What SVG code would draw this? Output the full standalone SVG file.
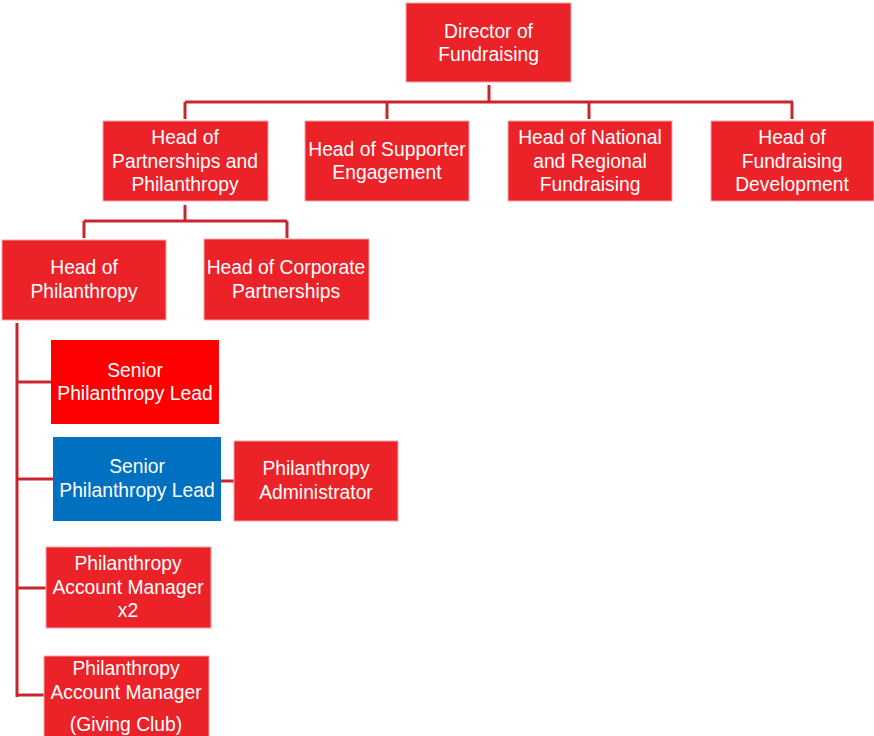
<svg xmlns="http://www.w3.org/2000/svg" width="874" height="736" viewBox="0 0 874 736">
<style>
.box{fill:#EC2229;stroke:#F5A3A6;stroke-width:1}
.t{font-family:"Liberation Sans",Arial,sans-serif;font-size:19.3px;fill:#FFFFFF;text-anchor:middle;dominant-baseline:central}
.c{fill:none;stroke:#C8262E;stroke-width:3}
</style>
<rect width="874" height="736" fill="#FFFFFF"/>
<g id="connectors">
<path class="c" d="M489 85V102M185 102H793M185 102V119M387 102V119M589 102V119M792 102V119"/>
<path class="c" d="M185 205V221M84 221H287M84 221V238M287 221V238"/>
<path class="c" d="M17 323V697M17 382H51M17 588H46M17 695H44"/>
<path class="c" d="M17 479H53" stroke-width="4"/>
<path class="c" d="M221 481H234"/>
</g>
<g id="director"><rect class="box" x="406" y="3" width="165" height="79"/><text class="t" x="488.5" y="31">Director of</text><text class="t" x="488.5" y="54">Fundraising</text></g>
<g id="head-partnerships"><rect class="box" x="103" y="121" width="165" height="80"/><text class="t" x="185" y="137">Head of</text><text class="t" x="185" y="161">Partnerships and</text><text class="t" x="185" y="184">Philanthropy</text></g>
<g id="head-supporter"><rect class="box" x="305" y="121" width="164" height="80"/><text class="t" x="387" y="149">Head of Supporter</text><text class="t" x="387" y="172">Engagement</text></g>
<g id="head-national"><rect class="box" x="508" y="121" width="164" height="80"/><text class="t" x="590" y="137">Head of National</text><text class="t" x="590" y="161">and Regional</text><text class="t" x="590" y="184">Fundraising</text></g>
<g id="head-development"><rect class="box" x="711" y="121" width="163" height="80"/><text class="t" x="792" y="137">Head of</text><text class="t" x="792" y="161">Fundraising</text><text class="t" x="792" y="184">Development</text></g>
<g id="head-philanthropy"><rect class="box" x="2" y="240" width="164" height="80"/><text class="t" x="84" y="267">Head of</text><text class="t" x="84" y="291">Philanthropy</text></g>
<g id="head-corporate"><rect class="box" x="204" y="239" width="165" height="81"/><text class="t" x="286" y="267">Head of Corporate</text><text class="t" x="286" y="291">Partnerships</text></g>
<g id="senior-lead-1"><rect x="51" y="340" width="168" height="84" fill="#FF0000"/><text class="t" x="135" y="370">Senior</text><text class="t" x="135" y="393">Philanthropy Lead</text></g>
<g id="senior-lead-2"><rect x="53" y="437" width="168" height="84" fill="#0070C0"/><text class="t" x="137" y="466">Senior</text><text class="t" x="137" y="490">Philanthropy Lead</text></g>
<g id="administrator"><rect class="box" x="234" y="441" width="164" height="80"/><text class="t" x="316" y="468">Philanthropy</text><text class="t" x="316" y="492">Administrator</text></g>
<g id="account-manager-x2"><rect class="box" x="46" y="547" width="165" height="81"/><text class="t" x="128" y="563">Philanthropy</text><text class="t" x="128" y="587">Account Manager</text><text class="t" x="128" y="610">x2</text></g>
<g id="account-manager-giving"><rect class="box" x="44" y="656" width="165" height="84"/><text class="t" x="126" y="668">Philanthropy</text><text class="t" x="126" y="692">Account Manager</text><text class="t" x="126" y="724">(Giving Club)</text></g>
</svg>
